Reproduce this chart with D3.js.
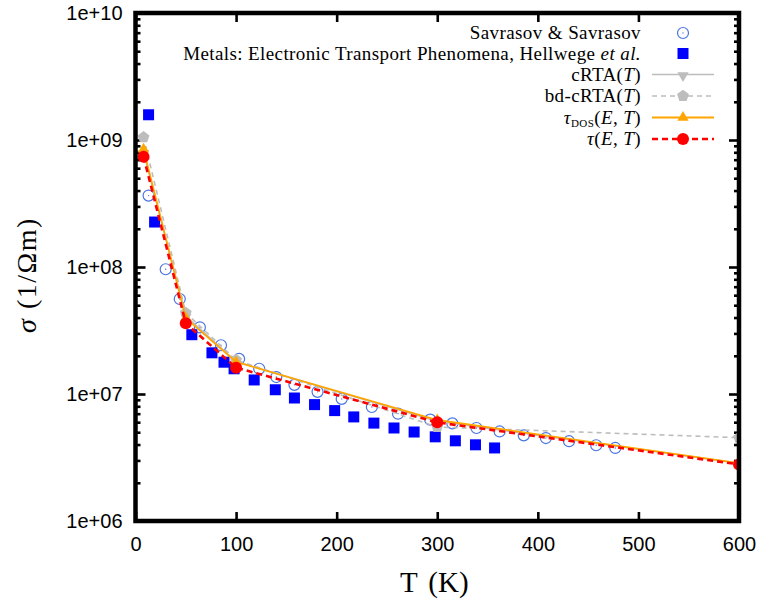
<!DOCTYPE html>
<html>
<head>
<meta charset="utf-8">
<script src="https://cdn.jsdelivr.net/npm/d3@7"></script>
<style>
  html, body { margin: 0; padding: 0; background: #fff; }
  svg { display: block; }
</style>
</head>
<body>
<svg id="chart" width="760" height="603"></svg>
<script>
// Electrical conductivity vs temperature
const xTickValues = [0, 100, 200, 300, 400, 500, 600];
const yTickValues = [1e6, 1e7, 1e8, 1e9, 1e10];
const yTickLabels = ["1e+06", "1e+07", "1e+08", "1e+09", "1e+10"];

// Savrasov & Savrasov (open circles)
const savrasovT = [13, 30, 44, 64, 85, 103, 123, 140, 158, 181, 205, 235, 261, 293, 315, 339, 362, 386, 408, 431, 458, 477];
const savrasovSigma = [3.65e8, 9.6e7, 5.6e7, 3.35e7, 2.42e7, 1.89e7, 1.58e7, 1.36e7, 1.18e7, 1.04e7, 9.15e6, 7.9e6, 7.0e6, 6.28e6, 5.87e6, 5.4e6, 5.07e6, 4.72e6, 4.5e6, 4.25e6, 3.95e6, 3.76e6];

// Hellwege et al. (filled squares)
const hellwegeT = [13, 19, 56, 76, 88, 98, 118, 139, 158, 178, 198, 217, 237, 257, 277, 298, 318, 338, 357];
const hellwegeSigma = [1.58e9, 2.26e8, 2.93e7, 2.11e7, 1.78e7, 1.58e7, 1.29e7, 1.08e7, 9.3e6, 8.25e6, 7.4e6, 6.6e6, 5.9e6, 5.4e6, 5.02e6, 4.6e6, 4.28e6, 3.98e6, 3.76e6];

// Computed curves
const modelT = [8, 50, 100, 300, 600];
const crtaSigma = [8.0e8, 4.1e7, 1.8e7, 6.1e6, 2.85e6];
const bdCrtaSigma = [1.05e9, 4.35e7, 1.85e7, 5.5e6, 4.53e6];
const tauDosSigma = [8.45e8, 3.96e7, 1.79e7, 6.24e6, 2.86e6];
const tauSigma = [7.39e8, 3.6e7, 1.61e7, 5.98e6, 2.79e6];

const svg = d3.select("#chart");
const plotLeft = 135.5, plotRight = 739, plotTop = 13, plotBottom = 521;

const x = d3.scaleLinear().domain([0, 600]).range([plotLeft, plotRight]);
const y = d3.scaleLog().domain([1e6, 1e10]).range([plotBottom, plotTop]);

const TICK_FONT = "'Liberation Sans', Arial, sans-serif";
const SERIF = "'Liberation Serif', 'Times New Roman', serif";

// minor log ticks (2..9 in each decade)
const minorY = [];
for (let e = 6; e < 10; e++) for (let m = 2; m <= 9; m++) minorY.push(m * Math.pow(10, e));

svg.append("defs").append("clipPath").attr("id", "plotClip")
  .append("rect").attr("x", plotLeft).attr("y", plotTop)
  .attr("width", plotRight - plotLeft).attr("height", plotBottom - plotTop);

// axes (ticks point inward)
function styleAxis(g) {
  g.select(".domain").remove();
  g.selectAll(".tick line").attr("stroke", "#000").attr("stroke-width", 2.6);
  g.selectAll(".tick text").attr("fill", "#000")
    .attr("font-family", TICK_FONT).attr("font-size", 20);
}

svg.append("g")
  .attr("transform", `translate(${plotLeft},0)`)
  .call(d3.axisLeft(y).tickValues(yTickValues).tickFormat((d, i) => yTickLabels[i]).tickSize(-10).tickPadding(13))
  .call(styleAxis);
svg.append("g")
  .attr("transform", `translate(${plotLeft},0)`)
  .call(d3.axisLeft(y).tickValues(minorY).tickFormat("").tickSize(-5))
  .call(styleAxis);
svg.append("g")
  .attr("transform", `translate(${plotRight},0)`)
  .call(d3.axisRight(y).tickValues(yTickValues).tickFormat("").tickSize(-10))
  .call(styleAxis);
svg.append("g")
  .attr("transform", `translate(${plotRight},0)`)
  .call(d3.axisRight(y).tickValues(minorY).tickFormat("").tickSize(-5))
  .call(styleAxis);
svg.append("g")
  .attr("transform", `translate(0,${plotBottom})`)
  .call(d3.axisBottom(x).tickValues(xTickValues).tickFormat(d3.format("d")).tickSize(-9).tickPadding(16))
  .call(styleAxis);
svg.append("g")
  .attr("transform", `translate(0,${plotTop})`)
  .call(d3.axisTop(x).tickValues(xTickValues).tickFormat("").tickSize(-9))
  .call(styleAxis);

// axis titles
svg.append("text")
  .attr("x", (plotLeft + plotRight) / 2 - 3).attr("y", 592)
  .attr("text-anchor", "middle").attr("font-family", SERIF).attr("font-size", 29)
  .attr("word-spacing", 4)
  .text("T (K)");

const yTitle = svg.append("text")
  .attr("transform", `translate(36,${(plotTop + plotBottom) / 2 + 8}) rotate(-90)`)
  .attr("text-anchor", "middle").attr("font-family", SERIF).attr("font-size", 28)
  .attr("letter-spacing", 1.5);
yTitle.append("tspan").attr("font-style", "italic").text("σ");
yTitle.append("tspan").text(" (1/Ωm)");

// symbol generators
const triPath = d3.symbol().type(d3.symbolTriangle).size(55);
function pentPath(r) {
  const pts = d3.range(5).map(i => {
    const a = -Math.PI / 2 + i * 2 * Math.PI / 5;
    return [r * Math.cos(a), r * Math.sin(a)];
  });
  return "M" + pts.map(p => p.join(",")).join("L") + "Z";
}

function linePath(ts, vs) {
  return d3.line().x(d => x(d[0])).y(d => y(d[1]))(ts.map((t, i) => [t, vs[i]]));
}

const series = svg.append("g").attr("clip-path", "url(#plotClip)");

// Savrasov circles
const sav = series.append("g");
savrasovT.forEach((t, i) => {
  sav.append("circle").attr("cx", x(t)).attr("cy", y(savrasovSigma[i])).attr("r", 5.5)
    .attr("fill", "none").attr("stroke", "#4a74e0").attr("stroke-width", 1.2);
  sav.append("circle").attr("cx", x(t)).attr("cy", y(savrasovSigma[i])).attr("r", 0.7).attr("fill", "#4a74e0");
});

// Hellwege squares
series.append("g").selectAll("rect").data(hellwegeT).join("rect")
  .attr("x", (t) => x(t) - 5.5).attr("y", (t, i) => y(hellwegeSigma[i]) - 5.5)
  .attr("width", 11).attr("height", 11).attr("fill", "#0000ff");

// cRTA
series.append("path").attr("d", linePath(modelT, crtaSigma))
  .attr("fill", "none").attr("stroke", "#bdbdbd").attr("stroke-width", 1.6);
series.append("g").selectAll("path").data(modelT).join("path")
  .attr("transform", (t, i) => `translate(${x(t)},${y(crtaSigma[i]) + 1}) rotate(180)`)
  .attr("d", triPath).attr("fill", "#bdbdbd");

// bd-cRTA
series.append("path").attr("d", linePath(modelT, bdCrtaSigma))
  .attr("fill", "none").attr("stroke", "#bdbdbd").attr("stroke-width", 1.6).attr("stroke-dasharray", "5,4");
series.append("g").selectAll("path").data(modelT).join("path")
  .attr("transform", (t, i) => `translate(${x(t)},${y(bdCrtaSigma[i])})`)
  .attr("d", pentPath(6.2)).attr("fill", "#bdbdbd");

// tau_DOS
series.append("path").attr("d", linePath(modelT, tauDosSigma))
  .attr("fill", "none").attr("stroke", "#ffa500").attr("stroke-width", 1.8);
series.append("g").selectAll("path").data(modelT).join("path")
  .attr("transform", (t, i) => `translate(${x(t)},${y(tauDosSigma[i])})`)
  .attr("d", triPath).attr("fill", "#ffa500");

// tau(E,T)
series.append("path").attr("d", linePath(modelT, tauSigma))
  .attr("fill", "none").attr("stroke", "#ff0000").attr("stroke-width", 2.6).attr("stroke-dasharray", "6,4");
series.append("g").selectAll("circle").data(modelT).join("circle")
  .attr("cx", t => x(t)).attr("cy", (t, i) => y(tauSigma[i])).attr("r", 6).attr("fill", "#ff0000");

// frame
svg.append("rect")
  .attr("x", plotLeft).attr("y", plotTop).attr("width", plotRight - plotLeft).attr("height", plotBottom - plotTop)
  .attr("fill", "none").attr("stroke", "#000").attr("stroke-width", 4.5);

// legend
const legendRows = [33, 53.5, 74.5, 96, 117.5, 139];
const textX = 641, lineX0 = 652, lineX1 = 714, markX = 683;
const lg = svg.append("g");

function label(row) {
  return lg.append("text").attr("x", textX).attr("y", legendRows[row] + 6).attr("text-anchor", "end")
    .attr("font-family", SERIF).attr("font-size", 19).attr("letter-spacing", 0.4);
}
label(0).text("Savrasov & Savrasov");
const l1 = label(1);
l1.append("tspan").text("Metals: Electronic Transport Phenomena, Hellwege ");
l1.append("tspan").attr("font-style", "italic").text("et al.");
const l2 = label(2);
l2.append("tspan").text("cRTA(");
l2.append("tspan").attr("font-style", "italic").text("T");
l2.append("tspan").text(")");
const l3 = label(3);
l3.append("tspan").text("bd-cRTA(");
l3.append("tspan").attr("font-style", "italic").text("T");
l3.append("tspan").text(")");
const l4 = label(4);
l4.append("tspan").attr("font-style", "italic").text("τ");
l4.append("tspan").attr("font-size", 11).attr("dy", 3).text("DOS");
l4.append("tspan").attr("dy", -3).text("(");
l4.append("tspan").attr("font-style", "italic").text("E");
l4.append("tspan").text(", ");
l4.append("tspan").attr("font-style", "italic").text("T");
l4.append("tspan").text(")");
const l5 = label(5);
l5.append("tspan").attr("font-style", "italic").text("τ");
l5.append("tspan").text("(");
l5.append("tspan").attr("font-style", "italic").text("E");
l5.append("tspan").text(", ");
l5.append("tspan").attr("font-style", "italic").text("T");
l5.append("tspan").text(")");

// legend samples
const ls = svg.append("g");
ls.append("circle").attr("cx", markX).attr("cy", legendRows[0]).attr("r", 5.5)
  .attr("fill", "none").attr("stroke", "#4a74e0").attr("stroke-width", 1.2);
ls.append("circle").attr("cx", markX).attr("cy", legendRows[0]).attr("r", 0.7).attr("fill", "#4a74e0");
ls.append("rect").attr("x", markX - 5.5).attr("y", legendRows[1] - 5.5).attr("width", 11).attr("height", 11).attr("fill", "#0000ff");

ls.append("line").attr("x1", lineX0).attr("x2", lineX1).attr("y1", legendRows[2]).attr("y2", legendRows[2])
  .attr("stroke", "#bdbdbd").attr("stroke-width", 1.6);
ls.append("path").attr("transform", `translate(${markX},${legendRows[2] + 1}) rotate(180)`).attr("d", triPath).attr("fill", "#bdbdbd");

ls.append("line").attr("x1", lineX0).attr("x2", lineX1).attr("y1", legendRows[3]).attr("y2", legendRows[3])
  .attr("stroke", "#bdbdbd").attr("stroke-width", 1.6).attr("stroke-dasharray", "5,4");
ls.append("path").attr("transform", `translate(${markX},${legendRows[3]})`).attr("d", pentPath(6.2)).attr("fill", "#bdbdbd");

ls.append("line").attr("x1", lineX0).attr("x2", lineX1).attr("y1", legendRows[4]).attr("y2", legendRows[4])
  .attr("stroke", "#ffa500").attr("stroke-width", 1.8);
ls.append("path").attr("transform", `translate(${markX},${legendRows[4]})`).attr("d", triPath).attr("fill", "#ffa500");

ls.append("line").attr("x1", lineX0).attr("x2", lineX1).attr("y1", legendRows[5]).attr("y2", legendRows[5])
  .attr("stroke", "#ff0000").attr("stroke-width", 2.6).attr("stroke-dasharray", "6,4");
ls.append("circle").attr("cx", markX).attr("cy", legendRows[5]).attr("r", 6).attr("fill", "#ff0000");
</script>
</body>
</html>
